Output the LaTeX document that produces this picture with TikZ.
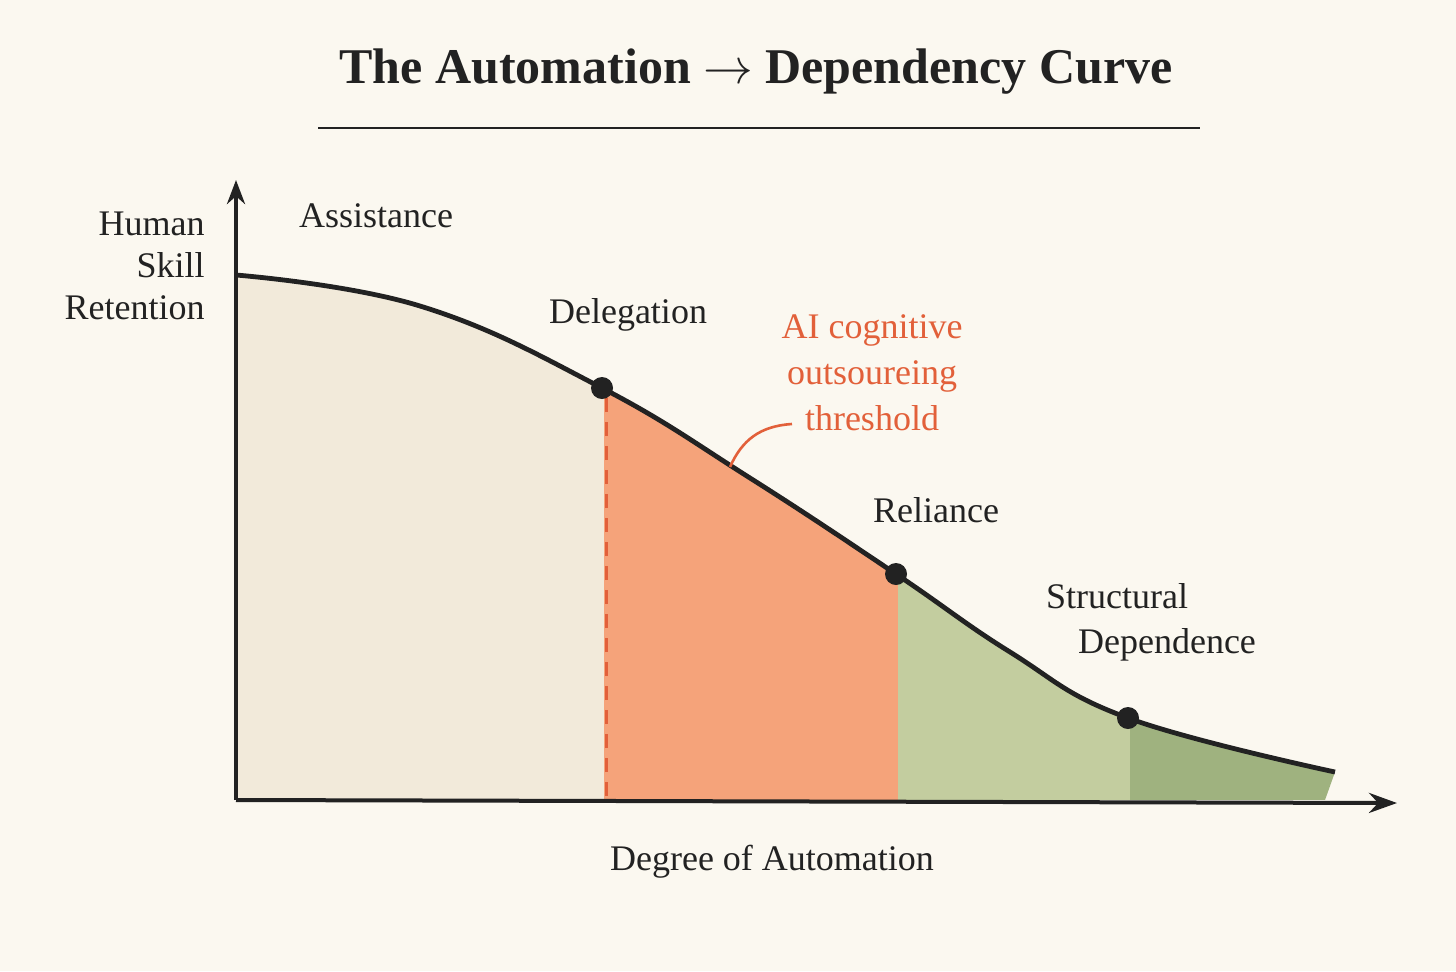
\documentclass[tikz,border=0pt]{standalone}
\usepackage{fontspec}
\setmainfont{Liberation Serif}
\usetikzlibrary{arrows.meta}
\definecolor{bg}{HTML}{FBF8F0}
\definecolor{beige}{HTML}{F2EADA}
\definecolor{orng}{HTML}{F5A37A}
\definecolor{lgreen}{HTML}{C3CD9F}
\definecolor{dgreen}{HTML}{9FB27F}
\definecolor{redt}{HTML}{E2603A}
\definecolor{ink}{HTML}{222222}
\tikzset{
 lbl/.style={font=\fontsize{18}{21}\selectfont, text=ink, inner sep=0pt},
 dotp/.style={circle, fill=ink, minimum size=11pt, inner sep=0pt},
}
\begin{document}
\begin{tikzpicture}[x=0.5pt,y=-0.5pt]
\fill[bg] (0,0) rectangle (1456,971);
\useasboundingbox (0,0) rectangle (1456,971);
\begin{scope}
\clip (236,800) -- plot[smooth,tension=0.7] coordinates {(236,275) (420,306) (602,388) (750,478) (896,574) (1010,652) (1128,718) (1335,772)} -- (1325,800) -- cycle;
\fill[beige] (236,200) rectangle (604,800);
\fill[orng] (604,200) rectangle (898,800);
\fill[lgreen] (898,200) rectangle (1130,800);
\fill[dgreen] (1130,200) rectangle (1335,800);
\end{scope}
\draw[ink, line width=2.4pt] plot[smooth,tension=0.7] coordinates {(236,275) (420,306) (602,388) (750,478) (896,574) (1010,652) (1128,718) (1335,772)};
\draw[redt, line width=1.5pt, dash pattern=on 7pt off 5pt] (606,398) -- (606,800);
\coordinate (o) at (236,800);
\coordinate (ytop) at (236,180);
\coordinate (xend) at (1397,803);
\draw[ink, line width=2pt, -{Stealth[length=12pt,width=9pt]}] (o) -- (ytop);
\draw[ink, line width=2pt, -{Stealth[length=14pt,width=10pt]}] (o) -- (xend);
\node[dotp] (d1) at (602,388) {};
\node[dotp] (d2) at (896,574) {};
\node[dotp] (d3) at (1128,718) {};
\node[font=\bfseries\fontsize{25}{30}\selectfont, text=ink] (title) at (756,72) {The Automation $\rightarrow$ Dependency Curve};
\coordinate (r1) at (318,128); \coordinate (r2) at (1200,128);
\draw[ink, line width=1.3pt] (r1) -- (r2);
\node[lbl, align=right, anchor=east, font=\fontsize{18}{21}\selectfont] (ylab) at (205,266) {Human\\Skill\\Retention};
\node[lbl] (ass) at (376,216) {Assistance};
\node[lbl] (del) at (628,315) {Delegation};
\node[lbl] (rel) at (936,510) {Reliance};
\node[lbl] (str) at (1117,596) {Structural};
\node[lbl] (dep) at (1167,645) {Dependence};
\node[lbl] (xlab) at (772,862) {Degree of Automation};
\node[lbl, text=redt, align=center, font=\fontsize{18}{23}\selectfont] (ai) at (872,373) {AI cognitive\\outsoureing\\threshold};
\coordinate (cp) at (730,467);
\coordinate (tp) at (792,424);
\draw[redt, line width=1.3pt] (cp) .. controls (742,440) and (760,426) .. (tp);
\end{tikzpicture}
\end{document}
